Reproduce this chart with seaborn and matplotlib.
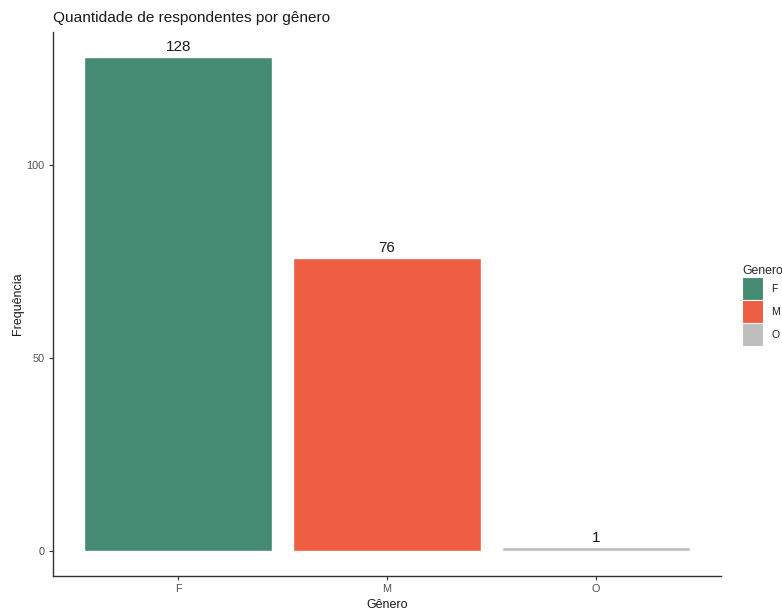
import matplotlib
matplotlib.use("Agg")
import matplotlib.pyplot as plt
import seaborn as sns
import pandas as pd
from matplotlib.patches import Patch

generos = ["F", "M", "O"]
frequencias = [128, 76, 1]
cores = ["#458B74", "#EE5C42", "#BEBEBE"]

df = pd.DataFrame({"Genero": generos, "Frequencia": frequencias})

sns.set_theme(style="white")
plt.rcParams["font.family"] = ["Liberation Sans", "DejaVu Sans"]

fig = plt.figure(figsize=(7.82, 6.1), dpi=100)
ax = fig.add_axes([53 / 782, 1 - 576 / 610, (721 - 53) / 782, (576 - 32) / 610])

sns.barplot(data=df, x="Genero", y="Frequencia", hue="Genero",
            palette=cores, width=0.9, dodge=False, legend=False,
            saturation=1, ax=ax)

for cont in ax.containers:
    ax.bar_label(cont, padding=2, fontsize=11, color="#1a1a1a")

ax.set_xlim(-0.6, 2.6)
top = max(frequencias)
ax.set_ylim(-0.05 * top, 1.05 * top)
ax.set_yticks([0, 50, 100])

for s in ["top", "right"]:
    ax.spines[s].set_visible(False)
for s in ["left", "bottom"]:
    ax.spines[s].set_color("#333333")
    ax.spines[s].set_linewidth(1.0)

ax.tick_params(axis="both", which="both", length=3, width=0.8,
               color="#333333", labelsize=7.8, labelcolor="#4D4D4D",
               left=True, bottom=True, pad=3)

ax.set_xlabel("Gênero", fontsize=9, color="#1a1a1a", labelpad=3)
ax.set_ylabel("Frequência", fontsize=9, color="#1a1a1a", labelpad=2)
ax.set_title("Quantidade de respondentes por gênero", loc="left",
             fontsize=11.1, color="#1a1a1a", pad=7)

# Legend with square colour keys to the right of the panel
handles = [Patch(facecolor=c, edgecolor="white", linewidth=0.8, label=g)
           for g, c in zip(generos, cores)]
leg = fig.legend(handles=handles, title="Genero", loc="upper left",
                 bbox_to_anchor=(735 / 782, 1 - 258 / 610), frameon=False,
                 fontsize=7.5, title_fontsize=8.8, handlelength=2.0,
                 handleheight=3.0, handletextpad=0.8, labelspacing=0.0,
                 borderpad=0.2, alignment="left")
for t in leg.get_texts():
    t.set_color("#1a1a1a")

fig.savefig("out.png", dpi=100)
